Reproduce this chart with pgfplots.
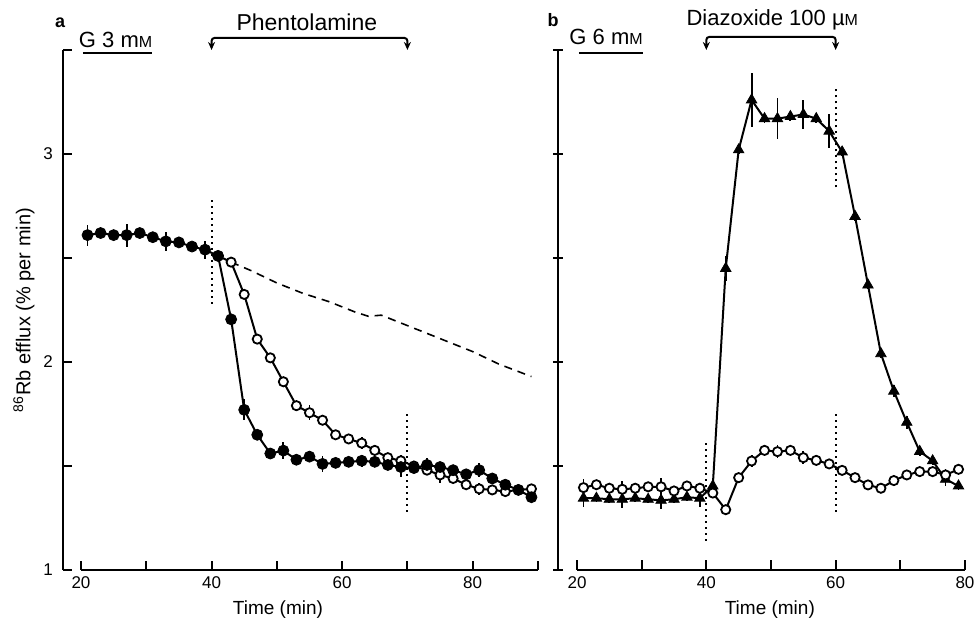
\documentclass[border=0pt]{standalone}
\usepackage{fontspec}
\setmainfont{Liberation Sans}
\usepackage{pgfplots}
\pgfplotsset{compat=1.18}
\usetikzlibrary{arrows.meta}

\newcommand\smc[1]{{\fontsize{8}{9}\selectfont #1}}

% panel a: filled circles, open circles, dashed control
\pgfplotstableread{
t v e
21 2.61 0.05
23 2.62 0.02
25 2.61 0.02
27 2.61 0.055
29 2.62 0.02
31 2.60 0.02
33 2.58 0.045
35 2.575 0.02
37 2.555 0.02
39 2.54 0.043
41 2.51 0.02
43 2.205 0.02
45 1.77 0.05
47 1.65 0.02
49 1.56 0.02
51 1.574 0.04
53 1.53 0.02
55 1.545 0.02
57 1.51 0.04
59 1.515 0.02
61 1.52 0.02
63 1.525 0.03
65 1.52 0.02
67 1.505 0.02
69 1.495 0.05
71 1.49 0.02
73 1.505 0.035
75 1.495 0.02
77 1.48 0.02
79 1.46 0.02
81 1.48 0.035
83 1.44 0.02
85 1.41 0.02
87 1.385 0.02
89 1.35 0.02
}\aFilled
\pgfplotstableread{
t v e
41 2.51 0
43 2.48 0.02
45 2.325 0.02
47 2.11 0.02
49 2.02 0.02
51 1.905 0.02
53 1.79 0.02
55 1.756 0.035
57 1.72 0.02
59 1.65 0.02
61 1.63 0.02
63 1.61 0.03
65 1.575 0.02
67 1.54 0.02
69 1.525 0.03
71 1.50 0.02
73 1.48 0.02
75 1.457 0.04
77 1.44 0.02
79 1.41 0.02
81 1.39 0.03
83 1.385 0.02
85 1.377 0.02
87 1.385 0.02
89 1.39 0.02
}\aOpen
\pgfplotstableread{
t v
43 2.48
46 2.44
50 2.38
54 2.33
58 2.29
62 2.24
64 2.22
66 2.225
68 2.20
72 2.15
76 2.10
80 2.05
84 1.99
89 1.93
}\aDashed

% panel b: open circles, filled triangles
\pgfplotstableread{
t v e
21 1.396 0.04
23 1.41 0.02
25 1.393 0.02
27 1.388 0.04
29 1.393 0.02
31 1.40 0.02
33 1.40 0.04
35 1.38 0.02
37 1.404 0.02
39 1.393 0.02
41 1.37 0.02
43 1.29 0.02
45 1.444 0.02
47 1.524 0.03
49 1.575 0.02
51 1.569 0.03
53 1.575 0.02
55 1.54 0.03
57 1.527 0.02
59 1.51 0.02
61 1.479 0.02
63 1.444 0.02
65 1.409 0.02
67 1.393 0.02
69 1.43 0.02
71 1.457 0.02
73 1.473 0.02
75 1.473 0.02
77 1.457 0.03
79 1.484 0.02
}\bOpen
\pgfplotstableread{
t v e
21 1.345 0.04
23 1.345 0.02
25 1.34 0.02
27 1.34 0.04
29 1.345 0.02
31 1.34 0.02
33 1.335 0.04
35 1.34 0.02
37 1.35 0.02
39 1.345 0.04
41 1.404 0.04
43 2.45 0.06
45 3.02 0.02
47 3.26 0.13
49 3.17 0.02
51 3.17 0.10
53 3.18 0.02
55 3.19 0.07
57 3.17 0.02
59 3.11 0.08
61 3.01 0.02
63 2.70 0.02
65 2.37 0.02
67 2.04 0.02
69 1.86 0.03
71 1.71 0.03
73 1.57 0.02
75 1.525 0.02
77 1.436 0.03
79 1.404 0.02
}\bTri

\pgfplotsset{
  panel/.style={
    ymin=1, ymax=3.5, y=104pt,
    axis x line*=bottom, axis y line*=left,
    axis line style={line width=1pt},
    every tick/.style={line width=1pt, black},
    major tick length=4.5pt,
    tick align=inside,
    clip=false,
    ytick={1,1.5,...,3.5},
    tick label style={font=\fontsize{8.5}{9}\selectfont},
    /pgf/number format/assume math mode=true,
    xlabel={Time (min)},
    xlabel style={font=\fontsize{9.5}{11}\selectfont},
  },
  % line and error bars, drawn beneath the markers
  errline/.style={line width=1pt, black, mark=none, forget plot,
    error bars/y dir=both, error bars/y explicit,
    error bars/error mark=none,
    error bars/error bar style={line width=0.9pt}},
  openmk/.style={only marks, mark=*, mark size=2.3pt,
    mark options={fill=white, draw=black, solid, line width=0.9pt}},
}

\begin{document}
\begin{tikzpicture}[x=1pt,y=1pt]
\useasboundingbox (0,0) rectangle (488.5,312);

% ---------- panel a ----------
\begin{axis}[panel,
  at={(40.5pt,27pt)}, anchor=south west,
  x=3.264pt, xmin=20, xmax=90,
  axis y line shift=9pt,
  xtick={20,30,...,90}, xticklabels={20,,40,,60,,80,},
  yticklabels={1,,2,,3,},
  yticklabel style={xshift=-1.5pt},
  ylabel={\textsuperscript{86}Rb efflux (\% per min)},
  ylabel style={at={(axis description cs:-0.125,0.5)}, anchor=center,
    font=\fontsize{10}{12}\selectfont},
  xlabel style={at={(axis description cs:0.431,-0.077)}, anchor=center},
]
\addplot[line width=0.8pt, dash pattern=on 4pt off 3pt] table[x=t, y=v] {\aDashed};
\addplot[errline] table[x=t, y=v, y error=e] {\aOpen};
\addplot[openmk] table[x=t, y=v] {\aOpen};
\addplot[errline] table[x=t, y=v, y error=e] {\aFilled};
\addplot[only marks, mark=*, mark size=2.75pt, black] table[x=t, y=v] {\aFilled};
% dotted markers of the phentolamine period
\addplot[line width=1pt, dotted, forget plot] coordinates {(40,2.28) (40,2.78)};
\addplot[line width=1pt, dotted, forget plot] coordinates {(70,1.28) (70,1.755)};
% annotations
\node[font=\bfseries\fontsize{9}{10}\selectfont] at (axis cs:16.8,3.63) {a};
\node[font=\fontsize{11}{12}\selectfont] at (axis cs:25.3,3.55) {G 3 m\smc{M}};
\draw[line width=1pt] (axis cs:20.3,3.486) -- (axis cs:30.8,3.486);
\node[font=\fontsize{11.5}{13}\selectfont] at (axis cs:54.6,3.635) {Phentolamine};
\draw[line width=1pt, rounded corners=1.5pt,
  {Stealth[length=4pt,width=3.5pt]}-{Stealth[length=4pt,width=3.5pt]}]
  (axis cs:40,3.5) -- (axis cs:40,3.558) -- (axis cs:70,3.558) -- (axis cs:70,3.5);
\end{axis}

% ---------- panel b ----------
\begin{axis}[panel,
  at={(288.5pt,27pt)}, anchor=south west,
  x=3.233pt, xmin=20, xmax=80,
  axis y line shift=9.5pt,
  major tick length=5pt,
  xtick={20,30,...,80}, xticklabels={20,,40,,60,,80},
  yticklabels={},
  y tick style={xshift=-2.5pt},
  xlabel style={at={(axis description cs:0.497,-0.077)}, anchor=center},
]
\addplot[errline] table[x=t, y=v, y error=e] {\bTri};
\addplot[only marks, mark=triangle*, mark size=3pt, black] table[x=t, y=v] {\bTri};
\addplot[errline] table[x=t, y=v, y error=e] {\bOpen};
\addplot[openmk] table[x=t, y=v] {\bOpen};
% dotted markers of the diazoxide period
\addplot[line width=1pt, dotted, forget plot] coordinates {(40,1.14) (40,1.625)};
\addplot[line width=1pt, dotted, forget plot] coordinates {(60,1.28) (60,1.76)};
\addplot[line width=1pt, dotted, forget plot] coordinates {(60,2.84) (60,3.33)};
% annotations
\node[font=\bfseries\fontsize{9}{10}\selectfont] at (axis cs:16.3,3.644) {b};
\node[font=\fontsize{11}{12}\selectfont] at (axis cs:24.5,3.565) {G 6 m\smc{M}};
\draw[line width=1pt] (axis cs:20.3,3.486) -- (axis cs:30.2,3.486);
\node[font=\fontsize{11}{13}\selectfont] at (axis cs:50.2,3.644) {Diazoxide 100 µ\smc{M}};
\draw[line width=1pt, rounded corners=1.5pt,
  {Stealth[length=4pt,width=3.5pt]}-{Stealth[length=4pt,width=3.5pt]}]
  (axis cs:40,3.5) -- (axis cs:40,3.563) -- (axis cs:60,3.563) -- (axis cs:60,3.5);
\end{axis}
\end{tikzpicture}
\end{document}
